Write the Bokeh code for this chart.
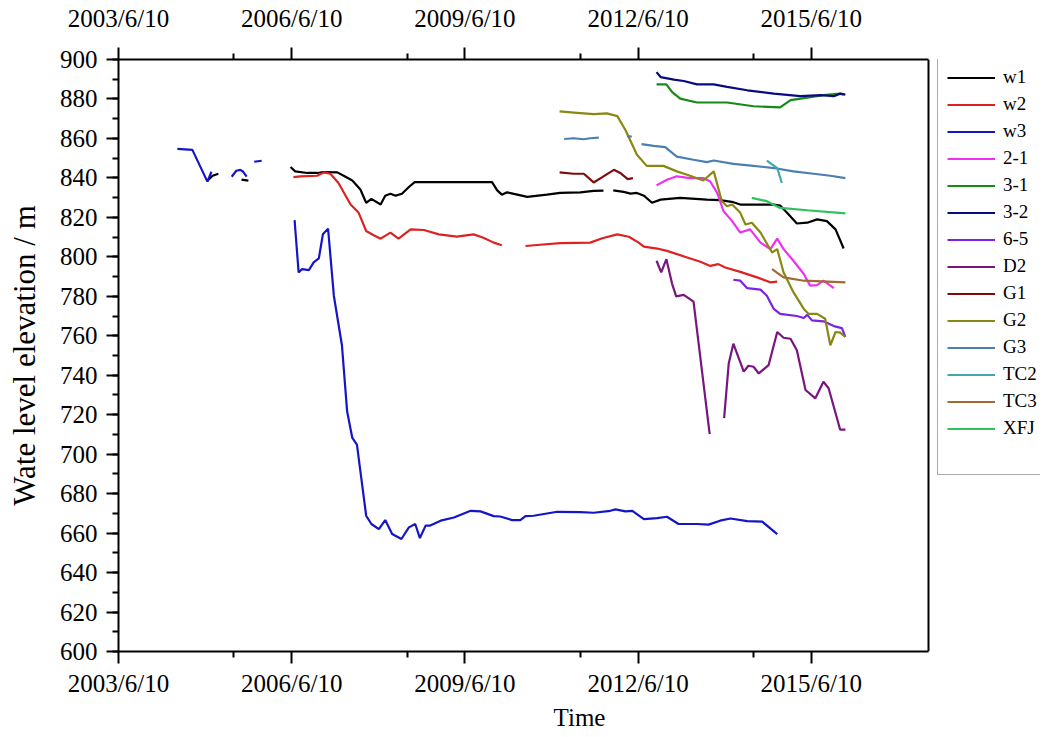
import numpy as np
from bokeh.plotting import figure
from bokeh.models import (Range1d, LinearAxis, FixedTicker, SingleIntervalTicker,
                          Legend, LegendItem, Span)
from bokeh.embed import file_html
from bokeh.resources import INLINE

N = float("nan")

# x values: years since 2003/6/10 ; y values: water level elevation (m)
x_end = 14.03
tick_years = [0, 3, 6, 9, 12]
tick_labels = ["2003/6/10", "2006/6/10", "2009/6/10", "2012/6/10", "2015/6/10"]
minor_years = [2, 5, 8, 11]

w1_t = [1.54, 1.63, 1.73, N, 2.13, 2.25, N,
        2.98, 3.06, 3.27, 3.44, 3.55, 3.79, 3.90, 4.05, 4.19, 4.29, 4.38, 4.54, 4.62, 4.71,
        4.80, 4.91, 5.03, 5.13, 6.47, 6.56, 6.64, 6.73, 6.85, 7.08, 7.42, 7.65, 8.00, 8.23,
        8.40, N, 8.57, 8.75, 8.87, 8.98, 9.10, 9.24, 9.39, 9.73, 10.19, 10.42, 10.65, 10.77,
        11.35, 11.46, 11.58, 11.75, 11.93, 12.10, 12.27, 12.42, 12.47, 12.56]
w1_v = [838.6, 841.1, 842.1, N, 839.1, 838.6, N,
        845.5, 843.3, 842.5, 842.5, 843.0, 842.8, 841.1, 838.7, 834.1, 827.4, 829.4, 826.5,
        831.0, 832.0, 831.0, 832.0, 835.4, 837.9, 837.9, 833.7, 831.5, 832.7, 831.9, 830.4,
        831.5, 832.4, 832.7, 833.4, 833.6, N, 833.7, 832.9, 832.0, 832.4, 831.0, 827.4,
        829.0, 829.9, 829.0, 828.7, 827.7, 826.5, 826.5, 826.0, 822.3, 816.9, 817.3, 819.0,
        818.1, 813.9, 810.5, 804.2]

w2_t = [3.03, 3.15, 3.44, 3.56, 3.67, 3.81, 4.02, 4.16, 4.29, 4.42, 4.54, 4.71, 4.85, 5.06,
        5.29, 5.55, 5.86, 6.15, 6.32, 6.50, 6.64, N, 7.05, 7.25, 7.65, 8.17, 8.38, 8.64,
        8.84, 9.01, 9.10, 9.33, 9.50, 9.85, 10.08, 10.25, 10.39, 10.51, 10.77, 11.06,
        11.29, 11.41]
w2_v = [840.4, 840.8, 841.1, 842.8, 842.1, 837.4, 826.5, 822.3, 813.1, 810.9, 809.2, 812.3,
        809.2, 813.9, 813.6, 811.4, 810.2, 811.4, 809.7, 807.2, 805.9, N, 805.5, 806.0,
        806.9, 807.2, 809.4, 811.4, 810.2, 807.2, 805.2, 804.2, 803.0, 799.7, 797.5, 795.4,
        796.3, 794.6, 792.4, 789.6, 787.1, 787.4]

w3_t = [1.02, 1.28, 1.54, 1.61, N, 1.96, 2.04, 2.11, 2.16, 2.22, N, 2.35, 2.48, N,
        3.05, 3.12, 3.18, 3.30, 3.38, 3.47, 3.54, 3.63, 3.73, 3.87, 3.96, 4.05, 4.13, 4.29,
        4.38, 4.51, 4.62, 4.74, 4.90, 5.03, 5.14, 5.22, 5.32, 5.40, 5.58, 5.81, 6.10, 6.27,
        6.50, 6.61, 6.82, 6.96, 7.05, 7.19, 7.60, 8.00, 8.23, 8.52, 8.61, 8.78, 8.90, 9.10,
        9.33, 9.50, 9.70, 10.02, 10.22, 10.42, 10.60, 10.89, 11.15, 11.41]
w3_v = [854.7, 854.2, 838.1, 843.1, N, 840.6, 843.6, 844.1, 843.1, 840.6, N, 848.2, 848.7, N,
        818.6, 792.1, 793.8, 793.3, 797.2, 799.2, 811.4, 814.3, 780.3, 755.2, 721.7, 708.2,
        704.8, 668.8, 664.6, 662.0, 666.6, 659.5, 657.0, 662.9, 664.6, 657.5, 663.8, 663.8,
        666.3, 667.9, 671.3, 671.0, 668.6, 668.4, 666.6, 666.6, 668.6, 668.8, 670.8, 670.6,
        670.3, 671.3, 672.0, 671.0, 671.3, 667.1, 667.6, 668.3, 664.6, 664.6, 664.3, 666.3,
        667.4, 666.1, 665.8, 659.5]

s21_t = [9.32, 9.50, 9.67, 9.90, 10.13, 10.25, 10.37, 10.48, 10.63, 10.77, 10.94, 11.12,
         11.29, 11.41, 11.52, 11.69, 11.87, 11.98, 12.10, 12.21, 12.39]
s21_v = [836.2, 839.1, 840.8, 839.9, 839.9, 838.2, 832.4, 823.1, 818.1, 812.3, 813.9, 807.2,
         803.9, 809.2, 803.9, 798.0, 791.3, 785.4, 785.7, 787.9, 784.1]

s31_t = [9.32, 9.49, 9.59, 9.73, 10.02, 10.54, 11.00, 11.46, 11.64, 11.93, 12.21, 12.50, 12.56]
s31_v = [887.4, 887.4, 883.5, 880.2, 878.2, 878.2, 876.3, 875.7, 879.4, 880.7, 881.9, 882.7, 882.2]

s32_t = [9.32, 9.39, 9.62, 9.79, 10.02, 10.31, 10.54, 10.89, 11.35, 11.81, 12.16, 12.39, 12.50, 12.59]
s32_v = [893.6, 891.1, 889.8, 889.1, 887.4, 887.4, 886.1, 884.4, 882.7, 881.4, 881.9, 881.4, 882.7, 882.2]

s65_t = [10.65, 10.77, 10.89, 11.12, 11.23, 11.35, 11.46, 11.75, 11.87, 11.93, 12.01, 12.21,
         12.39, 12.53, 12.59]
s65_v = [788.4, 787.9, 784.1, 783.4, 780.3, 773.6, 771.1, 770.0, 769.0, 770.6, 767.8, 767.3,
         764.9, 763.9, 759.4]

d2_t = [9.32, 9.40, 9.49, 9.59, 9.66, 9.79, 9.96, 10.24, N, 10.49, 10.57, 10.65, 10.83, 10.91,
        11.00, 11.09, 11.26, 11.41, 11.52, 11.64, 11.75, 11.90, 12.07, 12.21, 12.30, 12.50, 12.59]
d2_v = [798.0, 792.1, 798.8, 786.2, 780.0, 780.7, 777.3, 710.2, N, 718.3, 746.0, 756.0, 741.8,
        744.8, 744.3, 740.9, 745.1, 761.9, 759.0, 758.5, 752.7, 732.5, 728.3, 736.7, 733.4,
        712.4, 712.4]

g1_t = [7.64, 7.88, 8.06, 8.23, 8.38, 8.58, 8.69, 8.82, 8.91]
g1_v = [842.8, 842.1, 842.1, 837.7, 840.4, 844.1, 842.5, 839.4, 839.9]

g2_t = [7.64, 7.94, 8.23, 8.46, 8.64, 8.78, 8.98, 9.15, 9.44, 9.67, 9.85, 10.13, 10.31, 10.45,
        10.54, 10.63, 10.77, 10.86, 10.97, 11.12, 11.32, 11.41, 11.52, 11.69, 11.87, 11.95,
        12.10, 12.24, 12.33, 12.42, 12.50, 12.59]
g2_v = [873.7, 873.0, 872.3, 872.7, 871.3, 864.3, 851.7, 846.1, 846.1, 843.3, 841.6, 838.7,
        843.3, 828.2, 825.6, 826.5, 822.3, 816.4, 817.3, 812.3, 802.2, 803.9, 792.1, 782.1,
        773.6, 771.1, 771.1, 768.6, 755.2, 761.9, 761.6, 759.4]

g3_t = [7.72, 7.88, 8.06, 8.17, 8.32, N, 8.81, 8.89, N, 9.06, 9.27, 9.47, 9.67, 9.96, 10.19,
        10.31, 10.65, 11.00, 11.35, 11.69, 12.04, 12.33, 12.59]
g3_v = [859.7, 860.1, 859.6, 860.1, 860.4, N, 861.2, 860.9, N, 857.1, 856.2, 855.6, 850.8,
        849.2, 848.0, 848.8, 847.1, 846.1, 845.0, 843.3, 842.1, 841.1, 839.9]

tc2_t = [11.23, 11.41, 11.49]
tc2_v = [848.8, 845.0, 837.4]

tc3_t = [11.32, 11.52, 11.87, 12.59]
tc3_v = [793.8, 789.6, 787.9, 787.1]

xfj_t = [10.97, 11.23, 11.46, 11.93, 12.59]
xfj_v = [829.9, 828.2, 824.8, 823.6, 822.0]

series = [
    ("w1", w1_t, w1_v, "#000000"),
    ("w2", w2_t, w2_v, "#dd2222"),
    ("w3", w3_t, w3_v, "#1515c8"),
    ("2-1", s21_t, s21_v, "#f030f0"),
    ("3-1", s31_t, s31_v, "#168a16"),
    ("3-2", s32_t, s32_v, "#0a0a80"),
    ("6-5", s65_t, s65_v, "#7b22e6"),
    ("D2", d2_t, d2_v, "#7a1580"),
    ("G1", g1_t, g1_v, "#7f0c0c"),
    ("G2", g2_t, g2_v, "#888812"),
    ("G3", g3_t, g3_v, "#4a7fb0"),
    ("TC2", tc2_t, tc2_v, "#40a8a8"),
    ("TC3", tc3_t, tc3_v, "#a06a30"),
    ("XFJ", xfj_t, xfj_v, "#30c060"),
]

FONT = "Liberation Serif"
W, H = 1040, 733
LEFT, TOP, BOTTOM = 118, 59, 655
PLOT_RIGHT = 928
# the frame runs to the right edge of the figure so that the legend box is not clipped;
# the visible data area ends at x_end
frame_w = W - LEFT
x_max = x_end * frame_w / (PLOT_RIGHT - LEFT)

p = figure(width=W, height=H, output_backend="svg", toolbar_location=None,
           x_range=Range1d(0, x_max), y_range=Range1d(600, 900),
           x_axis_location="below", min_border_left=LEFT, min_border_right=0,
           min_border_top=TOP, min_border_bottom=H - BOTTOM)
p.xgrid.visible = False
p.ygrid.visible = False
p.outline_line_color = None

items = []
for name, t, v, col in series:
    r = p.line(np.array(t, dtype=float), np.array(v, dtype=float), line_color=col, line_width=2.2)
    items.append(LegendItem(label=name, renderers=[r]))
dummy = p.line([0.0], [700.0], line_alpha=0)
items.append(LegendItem(label=" ", renderers=[dummy]))

p.add_layout(Span(location=x_end, dimension="height", line_color="black", line_width=2))

xt = FixedTicker(ticks=tick_years, minor_ticks=minor_years)
overrides = {k: lab for k, lab in zip(tick_years, tick_labels)}


def style_x(ax):
    ax.ticker = xt
    ax.bounds = (0, x_end)
    ax.major_label_overrides = overrides
    ax.major_label_text_font = FONT
    ax.major_label_text_font_size = "25px"
    ax.major_label_text_color = "black"
    ax.axis_line_width = 2
    ax.major_tick_line_width = 2
    ax.minor_tick_line_width = 2
    ax.major_tick_in = 0
    ax.major_tick_out = 12
    ax.minor_tick_in = 0
    ax.minor_tick_out = 6


xa = p.xaxis[0]
style_x(xa)
xa.major_label_standoff = 6
xa.axis_label = "Time"
xa.axis_label_text_font = FONT
xa.axis_label_text_font_size = "25px"
xa.axis_label_text_font_style = "normal"
xa.axis_label_text_color = "black"
xa.axis_label_standoff = 4

top = LinearAxis()
style_x(top)
top.major_label_standoff = 16
p.add_layout(top, "above")

ya = p.yaxis[0]
ya.ticker = SingleIntervalTicker(interval=20, num_minor_ticks=2)
ya.major_label_text_font = FONT
ya.major_label_text_font_size = "25px"
ya.major_label_text_color = "black"
ya.axis_line_width = 2
ya.major_tick_line_width = 2
ya.minor_tick_line_width = 2
ya.major_tick_in = 0
ya.major_tick_out = 12
ya.minor_tick_in = 0
ya.minor_tick_out = 6
ya.major_label_standoff = 9
ya.axis_label = "Wate level elevation / m"
ya.axis_label_text_font = FONT
ya.axis_label_text_font_size = "31px"
ya.axis_label_text_font_style = "normal"
ya.axis_label_text_color = "black"
ya.axis_label_standoff = 15

legend = Legend(items=items, location=(937 - LEFT, BOTTOM - 479))
legend.label_text_font = FONT
legend.label_text_font_size = "19px"
legend.label_text_color = "black"
legend.label_height = 21
legend.glyph_height = 21
legend.glyph_width = 48
legend.spacing = 5
legend.padding = 9
legend.margin = 0
legend.label_standoff = 8
legend.border_line_color = "#555555"
legend.border_line_width = 1
legend.background_fill_color = "white"
legend.background_fill_alpha = 1
p.add_layout(legend, "center")

open("out.html", "w").write(file_html(p, INLINE))
